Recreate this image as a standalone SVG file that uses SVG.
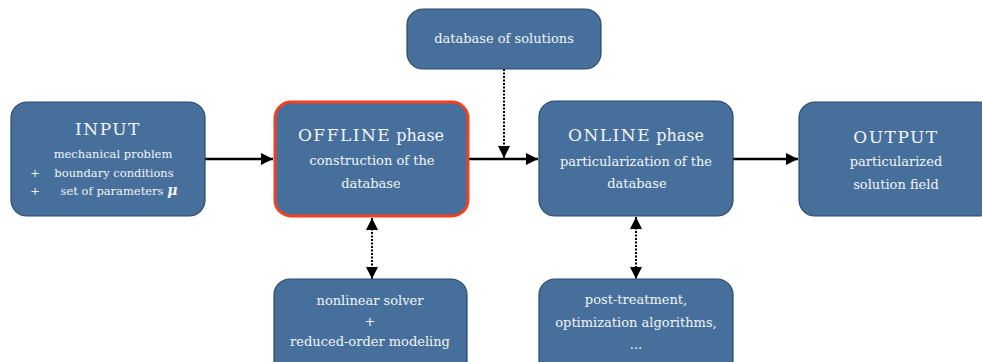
<svg xmlns="http://www.w3.org/2000/svg" width="982" height="362" viewBox="0 0 982 362">
<style>
.box{fill:#46709b;stroke:#2b4868;stroke-width:1.2}
.sel{fill:#46709b;stroke:#f2401e;stroke-width:3}
text{font-family:"DejaVu Serif","Liberation Serif",serif;fill:#f2f4f7;text-anchor:middle}
.t{font-size:17px;letter-spacing:1.5px}
.p{font-size:16px}
.b{font-size:13px}
.s{font-size:11.5px}
.a{stroke:#000;stroke-width:2.5;fill:none}
.d{stroke:#000;stroke-width:2;stroke-dasharray:2 1.5;fill:none}
</style>
<defs>
<marker id="ah" viewBox="0 0 10 10" refX="10" refY="5" markerWidth="5" markerHeight="5" orient="auto-start-reverse" markerUnits="strokeWidth"><path d="M0,0 L10,5 L0,10 z" fill="#000"/></marker>
<marker id="ahs" viewBox="0 0 10 10" refX="10" refY="5" markerWidth="6" markerHeight="6" orient="auto-start-reverse" markerUnits="strokeWidth"><path d="M0,0 L10,5 L0,10 z" fill="#000"/></marker>
</defs>
<g id="connectors">
<line class="a" x1="205" y1="159" x2="273" y2="159" marker-end="url(#ah)"/>
<line class="a" x1="469" y1="159" x2="538" y2="159" marker-end="url(#ah)"/>
<line class="a" x1="733" y1="159" x2="798" y2="159" marker-end="url(#ah)"/>
<line class="d" x1="504" y1="69" x2="504" y2="158" marker-end="url(#ahs)"/>
<line class="d" x1="372" y1="218" x2="372" y2="279" marker-start="url(#ahs)" marker-end="url(#ahs)"/>
<line class="d" x1="636" y1="217" x2="636" y2="279" marker-start="url(#ahs)" marker-end="url(#ahs)"/>
</g>
<g id="input">
<rect class="box" x="11" y="102" width="194" height="114" rx="16"/>
<text class="t" x="108" y="135">INPUT</text>
<text class="s" x="113" y="158">mechanical problem</text>
<text class="s" x="35" y="177">+</text>
<text class="s" x="114" y="177">boundary conditions</text>
<text class="s" x="35" y="195">+</text>
<text class="s" x="119" y="195">set of parameters <tspan font-weight="bold" font-style="italic" font-size="14">μ</tspan></text>
</g>
<g id="offline">
<rect class="sel" x="275" y="102" width="193" height="114" rx="16"/>
<text x="371" y="141"><tspan class="t">OFFLINE</tspan><tspan class="p"> phase</tspan></text>
<text class="b" x="372" y="165">construction of the</text>
<text class="b" x="371" y="188">database</text>
</g>
<g id="database">
<rect class="box" x="407" y="9" width="194" height="60" rx="16"/>
<text class="b" x="504" y="43">database of solutions</text>
</g>
<g id="online">
<rect class="box" x="539" y="101" width="194" height="115" rx="16"/>
<text x="636" y="141"><tspan class="t">ONLINE</tspan><tspan class="p"> phase</tspan></text>
<text class="b" x="636" y="166">particularization of the</text>
<text class="b" x="637" y="188">database</text>
</g>
<g id="output">
<rect class="box" x="799" y="102" width="195" height="114" rx="16"/>
<text class="t" x="896" y="143">OUTPUT</text>
<text class="b" x="896" y="166">particularized</text>
<text class="b" x="896" y="189">solution field</text>
</g>
<g id="solver">
<rect class="box" x="274" y="279" width="193" height="100" rx="16"/>
<text class="b" x="370" y="305">nonlinear solver</text>
<text class="b" x="370" y="326">+</text>
<text class="b" x="370" y="346">reduced-order modeling</text>
</g>
<g id="post">
<rect class="box" x="539" y="279" width="194" height="100" rx="16"/>
<text class="b" x="636" y="304">post-treatment,</text>
<text class="b" x="636" y="327">optimization algorithms,</text>
<text class="b" x="636" y="349">...</text>
</g>
</svg>
